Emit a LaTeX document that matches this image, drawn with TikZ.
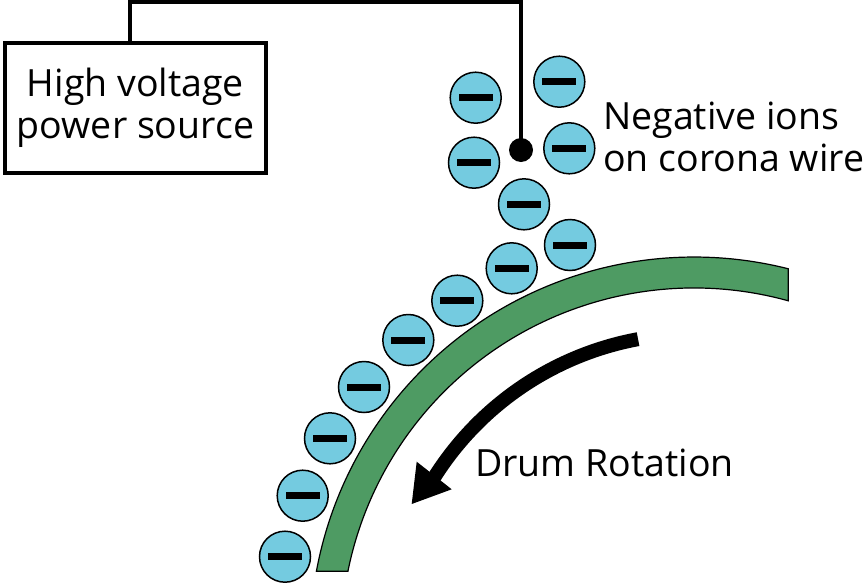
\documentclass[tikz,border=0pt]{standalone}
\usepackage{fontspec}
\setmainfont{Open Sans}
\begin{document}
\begin{tikzpicture}[x=1pt,y=-1pt,
  ion/.style={circle,draw=black,line width=1.5pt,fill=ionblue,minimum size=51pt,inner sep=0pt},
  wire/.style={line width=4.5pt,miter limit=10},
  psubox/.style={draw=black,line width=4pt,minimum width=261pt,minimum height=130pt,align=center,inner sep=0pt,font=\fontsize{37.5}{42}\selectfont},
  lbl/.style={inner sep=0pt,font=\fontsize{37.5}{42}\selectfont},
  drum/.style={fill=drumgreen,draw=black,line width=1.2pt},
]
\definecolor{ionblue}{RGB}{116,203,224}
\definecolor{drumgreen}{RGB}{78,155,99}
\useasboundingbox (0,0) rectangle (863,584);
\newcommand{\minusbar}{\rule[-3.5pt]{34pt}{7pt}}

% power source
\node[psubox] (psu) at (135.5,108) {High voltage\\power source};

% corona wire
\node[circle,fill=black,minimum size=24pt,inner sep=0pt] (dot) at (521,150) {};
\coordinate (c1) at (130,2);
\coordinate (c2) at (521,2);
\draw[wire] (c1 |- psu.north) -- (c1) -- (c2) -- (dot.center);

% drum
\draw[drum] (316.4,571.3) arc[start angle=190.46,end angle=284.22,radius=384]
  -- (788.3,300.8) arc[start angle=285.5,end angle=191.39,radius=353] -- cycle;

% ions
\foreach \n/\p in {1/{(475.7,97.7)},2/{(559.3,81.7)},3/{(474,162.7)},4/{(569.3,148.3)},
  5/{(524,204.3)},6/{(570,245)},7/{(511.7,268.3)},8/{(457.3,300.7)},9/{(408.3,340)},
  10/{(364,387)},11/{(330,438.3)},12/{(302.7,495.7)},13/{(285,556.7)}}
  \node[ion] (ion\n) at \p {\minusbar};

% rotation arrow
\coordinate (dc) at (694,641);
\draw[line width=14pt] ([shift={(259.5:307)}]dc) arc[start angle=259.5,end angle=211,radius=307];
\coordinate (tip) at (411.7,504);
\coordinate (barbA) at (416.7,461.7);
\coordinate (barbB) at (451.7,489.3);
\fill (tip) -- (barbA) -- (barbB) -- cycle;

% labels
\node[lbl,anchor=north west,align=left] (neg) at (603,102) {Negative ions\\on corona wire};
\node[lbl,anchor=base west] (drumlbl) at (475,476.7) {Drum Rotation};
\end{tikzpicture}
\end{document}
